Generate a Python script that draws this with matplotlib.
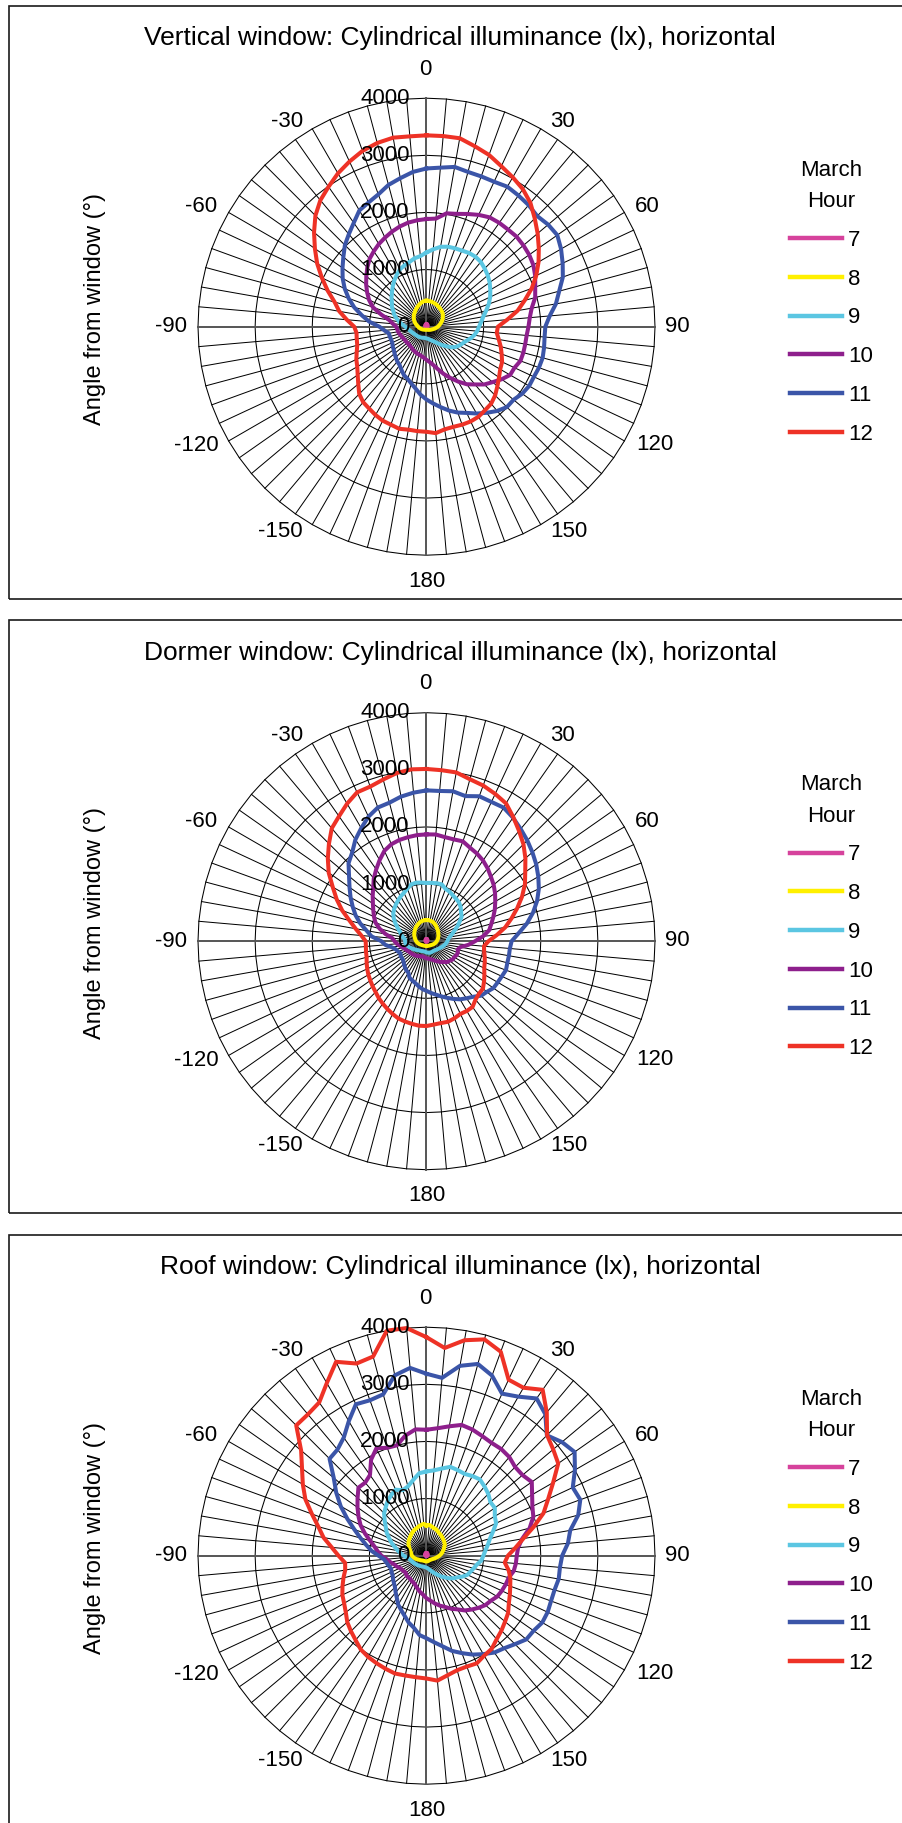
import numpy as np
import matplotlib
matplotlib.use('Agg')
import matplotlib.pyplot as plt
from matplotlib.patches import Rectangle

plt.rcParams['font.family'] = ['Liberation Sans', 'DejaVu Sans']

# ---------------- data ----------------
ANGLES = list(range(0, 181, 5)) + list(range(-175, 0, 5))   # 72 directions (deg)
ANGLE_TICKS = [0, 30, 60, 90, 120, 150, 180, -150, -120, -90, -60, -30]
RING_VALUES = [0, 1000, 2000, 3000, 4000]
HOURS = ['7', '8', '9', '10', '11', '12']
TITLES = ['Vertical window: Cylindrical illuminance (lx), horizontal',
          'Dormer window: Cylindrical illuminance (lx), horizontal',
          'Roof window: Cylindrical illuminance (lx), horizontal']

# Vertical window
V7_VERT = [40, 40, 40, 38, 38, 36, 35, 34, 32, 30, 28, 26,
           25, 23, 22, 20, 18, 17, 16, 15, 14, 13, 12, 11,
           10, 10, 9, 9, 8, 8, 8, 8, 8, 8, 8, 8,
           8, 8, 8, 8, 8, 8, 8, 9, 9, 10, 10, 11,
           12, 13, 14, 15, 16, 17, 18, 20, 22, 23, 25, 26,
           28, 30, 32, 34, 35, 36, 38, 38, 40, 40, 40, 40]
V8_VERT = [455, 452, 448, 440, 432, 422, 412, 400, 390, 380, 368, 350,
           330, 310, 288, 262, 240, 218, 200, 178, 158, 140, 125, 110,
           100, 92, 85, 78, 72, 68, 64, 60, 58, 56, 55, 54,
           54, 54, 55, 56, 58, 60, 62, 64, 67, 72, 78, 84,
           90, 98, 106, 116, 126, 136, 146, 160, 176, 195, 215, 235,
           255, 272, 290, 308, 322, 340, 360, 380, 400, 420, 438, 450]
V9_VERT = [1300, 1360, 1420, 1450, 1460, 1470, 1490, 1495, 1480, 1440, 1400, 1350,
           1290, 1230, 1160, 1080, 1010, 960, 920, 890, 850, 795, 735, 695,
           660, 620, 560, 480, 420, 360, 310, 280, 255, 235, 220, 210,
           205, 200, 200, 200, 205, 210, 215, 220, 225, 230, 235, 240,
           250, 260, 275, 290, 310, 340, 370, 420, 480, 540, 600, 640,
           700, 740, 800, 855, 920, 985, 1045, 1105, 1140, 1170, 1215, 1240]
V10_VERT = [1885, 1900, 2015, 2045, 2100, 2160, 2210, 2220, 2220, 2230, 2215, 2195,
            2160, 2100, 2025, 1970, 1870, 1815, 1785, 1760, 1755, 1755, 1750, 1700,
            1690, 1605, 1510, 1430, 1320, 1230, 1110, 990, 880, 770, 680, 620,
            580, 545, 520, 505, 495, 480, 470, 450, 445, 435, 440, 445,
            445, 460, 470, 490, 505, 515, 530, 590, 660, 820, 1000, 1110,
            1200, 1290, 1375, 1465, 1550, 1610, 1670, 1720, 1770, 1815, 1850, 1870]
V11_VERT = [2770, 2795, 2840, 2805, 2800, 2800, 2830, 2805, 2780, 2740, 2780, 2795,
            2720, 2630, 2540, 2405, 2300, 2165, 2080, 2075, 2090, 2105, 2095, 2075,
            2075, 2045, 1990, 1990, 1925, 1840, 1755, 1665, 1600, 1520, 1430, 1350,
            1275, 1195, 1100, 1030, 970, 935, 875, 820, 795, 760, 730, 700,
            685, 660, 660, 665, 670, 740, 825, 1005, 1150, 1310, 1450, 1580,
            1695, 1795, 1900, 2020, 2115, 2220, 2350, 2400, 2465, 2570, 2640, 2720]
V12_VERT = [3350, 3350, 3350, 3270, 3200, 3100, 3020, 2940, 2830, 2680, 2540, 2400,
            2265, 2120, 1960, 1780, 1620, 1420, 1250, 1235, 1285, 1345, 1400, 1460,
            1490, 1550, 1620, 1700, 1760, 1785, 1820, 1830, 1825, 1815, 1825, 1870,
            1840, 1835, 1830, 1850, 1825, 1815, 1785, 1750, 1725, 1665, 1560, 1470,
            1400, 1355, 1300, 1255, 1240, 1230, 1265, 1400, 1550, 1665, 1840, 2020,
            2210, 2385, 2570, 2750, 2890, 2990, 3100, 3190, 3275, 3330, 3360, 3345]

# Dormer window
V7_DORM = [35, 35, 34, 34, 33, 32, 31, 30, 28, 27, 25, 24,
           22, 21, 20, 18, 17, 16, 15, 14, 13, 12, 11, 10,
           10, 9, 9, 8, 8, 8, 7, 7, 7, 7, 7, 7,
           7, 7, 7, 7, 7, 7, 8, 8, 8, 9, 9, 10,
           10, 11, 12, 13, 14, 15, 16, 17, 18, 20, 21, 22,
           24, 25, 27, 28, 30, 31, 32, 33, 34, 35, 35, 35]
V8_DORM = [370, 372, 365, 360, 350, 335, 320, 305, 290, 278, 265, 252,
           240, 230, 220, 210, 200, 190, 180, 170, 160, 150, 140, 130,
           120, 112, 105, 100, 95, 92, 90, 88, 85, 85, 85, 85,
           85, 85, 85, 85, 85, 88, 90, 92, 95, 100, 105, 112,
           120, 130, 140, 150, 160, 170, 180, 190, 200, 210, 222, 235,
           248, 260, 272, 285, 298, 310, 322, 335, 348, 358, 365, 370]
V9_DORM = [1020, 1025, 1030, 1030, 975, 955, 925, 905, 885, 845, 790, 750,
           665, 590, 515, 460, 410, 380, 365, 350, 330, 310, 290, 270,
           255, 240, 230, 220, 215, 210, 210, 210, 210, 210, 205, 200,
           195, 190, 185, 185, 185, 190, 195, 200, 210, 220, 235, 250,
           270, 290, 315, 345, 360, 370, 375, 380, 420, 460, 495, 560,
           630, 700, 760, 800, 835, 870, 905, 935, 980, 1030, 1040, 1030]
V10_DORM = [1870, 1875, 1850, 1845, 1860, 1805, 1770, 1725, 1665, 1595, 1535, 1465,
            1390, 1320, 1245, 1175, 1115, 995, 850, 735, 600, 565, 585, 580,
            560, 560, 530, 515, 475, 445, 410, 380, 350, 330, 315, 305,
            300, 290, 280, 275, 280, 290, 300, 310, 320, 330, 340, 350,
            360, 380, 400, 430, 470, 520, 560, 600, 730, 850, 950, 1015,
            1075, 1145, 1230, 1320, 1435, 1535, 1640, 1745, 1805, 1835, 1850, 1865]
V11_DORM = [2640, 2640, 2665, 2630, 2700, 2690, 2700, 2640, 2565, 2495, 2420, 2345,
            2260, 2170, 2060, 1930, 1785, 1620, 1490, 1465, 1465, 1465, 1480, 1455,
            1440, 1430, 1380, 1350, 1270, 1220, 1175, 1115, 1055, 1000, 950, 910,
            870, 840, 800, 760, 730, 705, 635, 620, 590, 560, 530, 520,
            525, 500, 530, 555, 615, 725, 790, 965, 1065, 1200, 1320, 1425,
            1535, 1645, 1770, 1930, 2025, 2170, 2285, 2405, 2490, 2510, 2570, 2610]
V12_DORM = [3015, 3005, 3000, 2935, 2900, 2845, 2785, 2650, 2520, 2400, 2260, 2110,
            1990, 1845, 1690, 1540, 1400, 1235, 1085, 1010, 1025, 1055, 1085, 1115,
            1170, 1230, 1290, 1300, 1335, 1405, 1410, 1405, 1435, 1460, 1455, 1465,
            1485, 1485, 1470, 1455, 1440, 1405, 1370, 1335, 1300, 1260, 1230, 1200,
            1175, 1145, 1115, 1085, 1075, 1065, 1065, 1145, 1260, 1395, 1570, 1735,
            1895, 2090, 2255, 2415, 2580, 2670, 2780, 2875, 2880, 2930, 2990, 3020]

# Roof window
V7_ROOF = [45, 45, 44, 43, 42, 40, 38, 36, 34, 32, 30, 28,
           26, 24, 22, 20, 18, 17, 16, 15, 14, 13, 12, 11,
           10, 10, 9, 9, 9, 8, 8, 8, 8, 8, 8, 8,
           8, 8, 8, 8, 8, 8, 8, 9, 9, 9, 10, 10,
           11, 12, 13, 14, 15, 16, 18, 20, 22, 24, 26, 28,
           30, 32, 34, 36, 38, 40, 42, 43, 44, 45, 45, 45]
V8_ROOF = [530, 540, 520, 500, 490, 470, 450, 440, 425, 410, 400, 385,
           370, 340, 320, 295, 275, 250, 225, 200, 180, 160, 145, 130,
           120, 110, 105, 100, 95, 95, 95, 95, 95, 100, 100, 100,
           100, 100, 100, 100, 100, 100, 100, 105, 110, 115, 125, 135,
           145, 160, 180, 200, 220, 240, 255, 265, 275, 290, 310, 335,
           360, 385, 405, 420, 440, 460, 480, 500, 510, 530, 545, 560]
V9_ROOF = [1475, 1500, 1550, 1610, 1595, 1580, 1610, 1630, 1580, 1530, 1460, 1460,
           1380, 1345, 1240, 1150, 1090, 1035, 995, 965, 895, 855, 820, 790,
           730, 660, 615, 560, 495, 440, 385, 340, 300, 265, 240, 220,
           210, 205, 200, 200, 200, 205, 210, 215, 220, 230, 235, 245,
           255, 265, 275, 290, 310, 350, 400, 450, 510, 570, 650, 720,
           805, 870, 955, 1050, 1110, 1180, 1230, 1275, 1220, 1255, 1345, 1450]
V10_ROOF = [2205, 2240, 2300, 2370, 2350, 2310, 2280, 2280, 2255, 2195, 2195, 2250,
            2135, 2045, 1990, 1870, 1700, 1610, 1580, 1570, 1550, 1490, 1475, 1455,
            1430, 1375, 1345, 1290, 1230, 1170, 1085, 1025, 955, 905, 850, 790,
            745, 685, 645, 600, 555, 525, 515, 495, 495, 495, 470, 480,
            495, 510, 555, 585, 645, 700, 790, 855, 925, 1025, 1150, 1275,
            1375, 1475, 1575, 1685, 1670, 1725, 1940, 2075, 2010, 2000, 2135, 2220]
V11_ROOF = [3185, 3125, 3375, 3475, 3355, 3130, 3215, 3360, 3235, 2980, 3095, 3165,
            3000, 2825, 2865, 2750, 2555, 2485, 2375, 2345, 2350, 2320, 2320, 2340,
            2340, 2290, 2280, 2190, 2115, 2070, 1990, 1910, 1815, 1725, 1610, 1520,
            1445, 1395, 1280, 1210, 1120, 1050, 990, 905, 840, 780, 745, 715,
            685, 675, 660, 685, 710, 745, 840, 965, 1070, 1195, 1345, 1530,
            1735, 1930, 2120, 2400, 2425, 2525, 2720, 2925, 2895, 2925, 3205, 3300]
V12_ROOF = [3825, 3650, 3830, 3920, 3800, 3400, 3395, 3545, 3275, 2985, 2895, 2815,
            2560, 2350, 2180, 1940, 1720, 1560, 1425, 1375, 1460, 1520, 1560, 1610,
            1665, 1745, 1795, 1855, 1910, 1990, 2020, 2080, 2065, 2075, 2125, 2195,
            2150, 2135, 2130, 2135, 2105, 2075, 2045, 2005, 1930, 1870, 1810, 1725,
            1665, 1625, 1565, 1505, 1445, 1430, 1540, 1665, 1830, 1960, 2135, 2340,
            2500, 2660, 2865, 3225, 3230, 3275, 3490, 3745, 3580, 3610, 4000, 4000]

PANELS = [
    (TITLES[0], [V7_VERT, V8_VERT, V9_VERT, V10_VERT, V11_VERT, V12_VERT]),
    (TITLES[1], [V7_DORM, V8_DORM, V9_DORM, V10_DORM, V11_DORM, V12_DORM]),
    (TITLES[2], [V7_ROOF, V8_ROOF, V9_ROOF, V10_ROOF, V11_ROOF, V12_ROOF]),
]

# ---------------- style ----------------
COLORS = ['#D6429C', '#FFF000', '#5BC6E2', '#8E1F8C', '#3B55A8', '#EE3226']
FS = 16
FS_TITLE = 19
FS_YLABEL = 17
W, H = 903, 1823
R = 228.5              # radius of the 4000 ring in pixels
PANEL_DY = 614.5
LABEL_OFFSETS = {0: (-0.7, 20.7), 30: (15.8, 5.3), 60: (16.8, 4.0), 90: (16.2, 0.5),
                 120: (21.6, -2.9), 150: (20.0, -4.8), 180: (0, -18.9),
                 -150: (-22.7, -4.8), -120: (-23.5, -3.5), -90: (-19.4, 0.0),
                 -60: (-19.9, 4.0), -30: (-18.4, 5.3)}

fig = plt.figure(figsize=(W / 100, H / 100), dpi=100)
fig.patch.set_facecolor('white')


def fx(x):
    return x / W


def fy(y):
    return 1 - y / H


theta = np.deg2rad(np.array(ANGLES) % 360)
th_closed = np.append(theta, theta[0])

for i, (title, series) in enumerate(PANELS):
    cx, cy = 426.5, 326.7 + PANEL_DY * i
    top = 5.7 + PANEL_DY * i
    box_h = 593
    fig.add_artist(Rectangle((fx(8.5), fy(top + box_h)), fx(940) - fx(8.5), box_h / H,
                             transform=fig.transFigure, fill=False,
                             edgecolor='#1a1a1a', lw=1.2))

    ax = fig.add_axes([fx(cx - R), fy(cy + R), 2 * R / W, 2 * R / H], projection='polar')
    ax.set_theta_zero_location('N')
    ax.set_theta_direction(-1)
    ax.set_ylim(0, RING_VALUES[-1])
    ax.set_axis_off()

    # polygonal rings
    for v in RING_VALUES[1:]:
        ax.plot(th_closed, np.full(th_closed.shape, v), color='black', lw=0.75,
                clip_on=False, zorder=1)
    # spokes
    for t, a in zip(theta, ANGLES):
        if a in (0, 180, 90, -90):
            ax.plot([t, t], [0, RING_VALUES[-1]], color='#555555', lw=1.4,
                    clip_on=False, zorder=1.5)
        else:
            ax.plot([t, t], [0, RING_VALUES[-1]], color='black', lw=0.72,
                    clip_on=False, zorder=1)

    lines = []
    for vals, col in zip(series, COLORS):
        vals = np.asarray(vals, dtype=float)
        ln, = ax.plot(th_closed, np.append(vals, vals[0]), color=col, lw=2.9,
                      clip_on=False, zorder=3)
        lines.append(ln)

    # radial value labels
    for v in RING_VALUES:
        ax.annotate(str(v), xy=(0, v), xytext=(-12, 0), textcoords='offset points',
                    ha='right', va='center', fontsize=FS, zorder=6,
                    annotation_clip=False)
    # angle labels
    for a in ANGLE_TICKS:
        ax.annotate(str(a), xy=(np.deg2rad(a % 360), RING_VALUES[-1]),
                    xytext=LABEL_OFFSETS[a], textcoords='offset points',
                    ha='center', va='center', fontsize=FS, annotation_clip=False)

    fig.text(fx(460), fy(38.3 + PANEL_DY * i), title, ha='center', va='center',
             fontsize=FS_TITLE)
    fig.text(fx(95), fy(cy - 18), 'Angle from window (°)', rotation=90,
             ha='center', va='center', fontsize=FS_YLABEL)

    leg = ax.legend(lines, HOURS, title='March\nHour', loc='upper left',
                    bbox_to_anchor=(fx(790), fy(cy - 167)),
                    bbox_transform=fig.transFigure, frameon=False, fontsize=FS,
                    title_fontsize=FS, handlelength=2.35, handletextpad=0.25,
                    labelspacing=0.8, borderpad=0, borderaxespad=0)
    leg.get_title().set_linespacing(1.65)
    leg.get_title().set_multialignment('center')
    for lh in leg.get_lines():
        lh.set_linewidth(3.2)

fig.savefig('out.png', dpi=100, facecolor='white')
